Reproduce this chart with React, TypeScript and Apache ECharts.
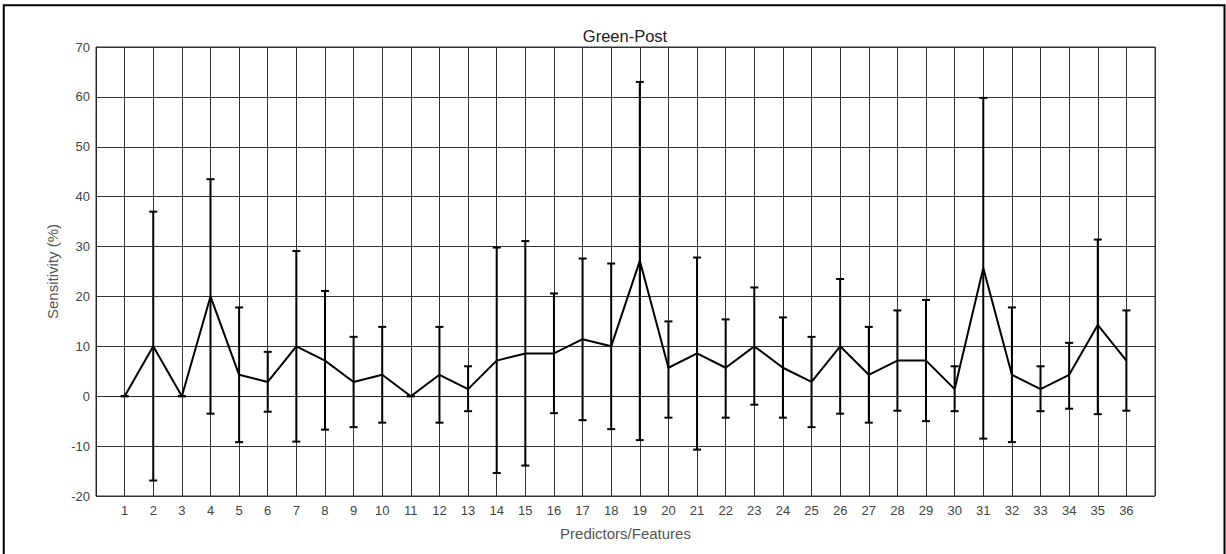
import React, { useEffect, useRef } from "react";
import * as echarts from "echarts";

const categories: number[] = Array.from({ length: 36 }, (_, i) => i + 1);
const meanValues: number[] = [0, 10, 0, 20, 4.29, 2.86, 10, 7.14, 2.86, 4.29, 0, 4.29, 1.43, 7.14, 8.57, 8.57, 11.43, 10, 27.14, 5.71, 8.57, 5.71, 10, 5.71, 2.86, 10, 4.29, 7.14, 7.14, 1.43, 25.71, 4.29, 1.43, 4.29, 14.29, 7.14];
const upperValues: number[] = [0, 37.0, 0, 43.5, 17.8, 8.9, 29.1, 21.1, 11.9, 13.9, 0, 13.9, 6.0, 29.8, 31.1, 20.6, 27.6, 26.6, 63.0, 15.0, 27.8, 15.4, 21.8, 15.8, 11.9, 23.5, 13.9, 17.2, 19.3, 6.0, 59.8, 17.8, 6.0, 10.7, 31.4, 17.2];
const lowerValues: number[] = [0, -16.9, 0, -3.5, -9.2, -3.1, -9.1, -6.7, -6.2, -5.3, 0, -5.3, -3.0, -15.4, -13.9, -3.4, -4.8, -6.6, -8.8, -4.3, -10.7, -4.3, -1.7, -4.3, -6.2, -3.5, -5.3, -2.9, -5.0, -3.0, -8.5, -9.2, -3.0, -2.5, -3.6, -2.9];
const yTicks: number[] = [-20, -10, 0, 10, 20, 30, 40, 50, 60, 70];
const titleText = "Green-Post";

const FONT = "'Liberation Sans', Arial, Helvetica, sans-serif";

export default function App() {
  const ref = useRef<HTMLDivElement>(null);
  useEffect(() => {
    if (!ref.current) return;
    const chart = echarts.init(ref.current, undefined, { renderer: "svg" });
    const lineData = categories.map((c, i) => [c, meanValues[i]]);
    const errData = categories.map((c, i) => [c, lowerValues[i], upperValues[i]]);
    chart.setOption({
      animation: false,
      backgroundColor: "#ffffff",
      graphic: [
        {
          type: "rect",
          shape: { x: 3.75, y: 5.25, width: 1220.75, height: 600 },
          style: { fill: "none", stroke: "#000", lineWidth: 2 },
          silent: true,
          z: 100,
        },
        {
          type: "text",
          x: 625,
          y: 35.5,
          silent: true,
          style: {
            text: titleText,
            fontFamily: FONT,
            fontSize: 16.5,
            fill: "#222",
            textAlign: "center",
            textVerticalAlign: "middle",
          },
        },
      ],
      grid: {
        left: 96,
        right: 71,
        top: 47,
        bottom: 58,
        show: true,
        borderColor: "#333",
        borderWidth: 1,
      },
      xAxis: {
        type: "value",
        min: 0,
        max: 37,
        interval: 1,
        name: "Predictors/Features",
        nameLocation: "middle",
        nameGap: 30,
        nameTextStyle: { fontFamily: FONT, fontSize: 15, color: "#555" },
        axisLine: { show: true, lineStyle: { color: "#222", width: 1 } },
        axisTick: { show: false },
        axisLabel: {
          margin: 8,
          fontFamily: FONT,
          fontSize: 13,
          color: "#444",
          formatter: (v: number) => (categories.includes(v) ? String(v) : ""),
        },
        splitLine: { show: true, lineStyle: { color: "#333", width: 1 } },
      },
      yAxis: {
        type: "value",
        min: yTicks[0],
        max: yTicks[yTicks.length - 1],
        interval: 10,
        name: "Sensitivity (%)",
        nameLocation: "middle",
        nameGap: 26,
        nameTextStyle: { fontFamily: FONT, fontSize: 15, color: "#555" },
        axisLine: { show: true, lineStyle: { color: "#222", width: 1 } },
        axisTick: { show: true, inside: true, length: 10, lineStyle: { color: "#333" } },
        axisLabel: { margin: 6, fontFamily: FONT, fontSize: 13, color: "#444" },
        splitLine: { show: true, lineStyle: { color: "#333", width: 1 } },
      },
      series: [
        {
          type: "custom",
          data: errData,
          z: 3,
          renderItem: (params: any, api: any) => {
            const x = api.value(0);
            const lo = api.coord([x, api.value(1)]);
            const hi = api.coord([x, api.value(2)]);
            const hw = 4;
            const style = { stroke: "#000", lineWidth: 2 };
            return {
              type: "group",
              children: [
                { type: "line", shape: { x1: lo[0], y1: lo[1], x2: hi[0], y2: hi[1] }, style },
                { type: "line", shape: { x1: lo[0] - hw, y1: lo[1], x2: lo[0] + hw, y2: lo[1] }, style },
                { type: "line", shape: { x1: hi[0] - hw, y1: hi[1], x2: hi[0] + hw, y2: hi[1] }, style },
              ],
            };
          },
        },
        {
          type: "line",
          data: lineData,
          symbol: "none",
          z: 4,
          lineStyle: { color: "#000", width: 2 },
        },
      ],
    });
    return () => chart.dispose();
  }, []);
  return (
    <div
      ref={ref}
      style={{ position: "fixed", left: 0, top: 0, width: 1226, height: 554, background: "#fff" }}
    />
  );
}
